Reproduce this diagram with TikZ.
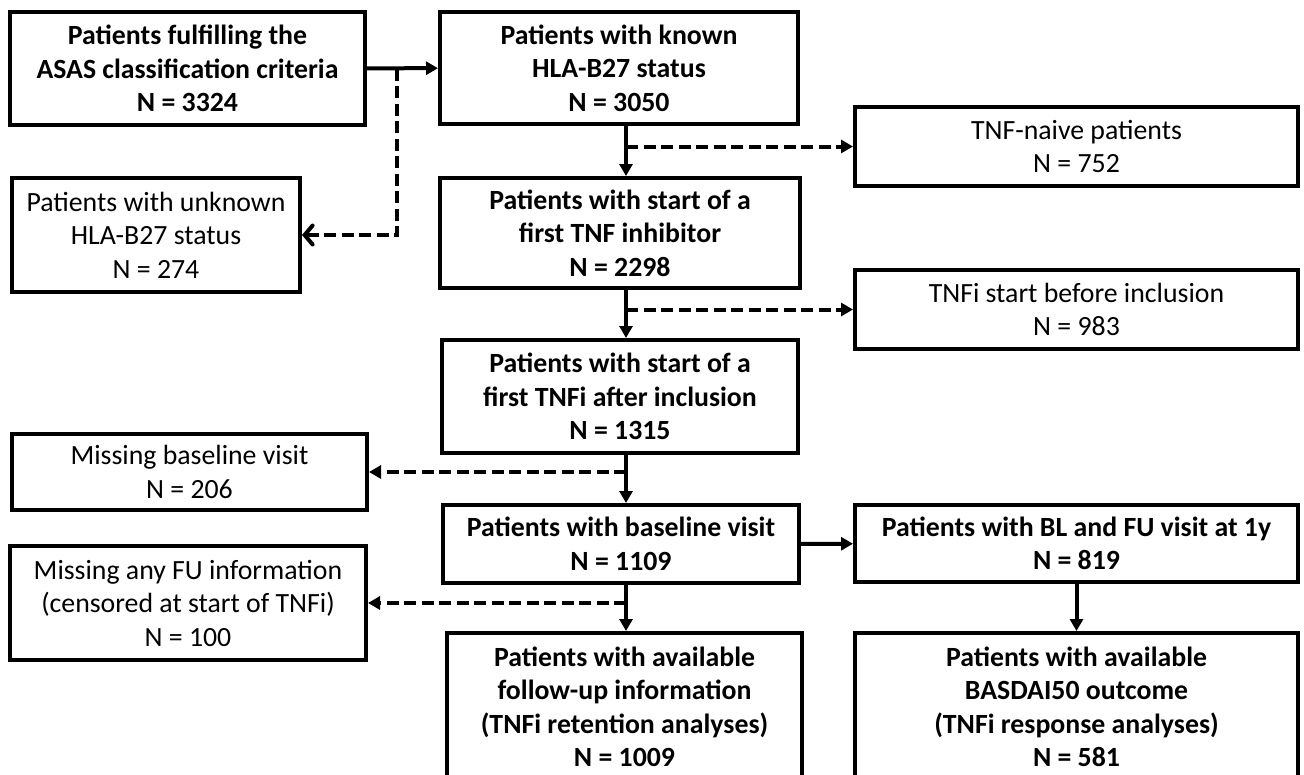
\documentclass[tikz,border=0pt]{standalone}
\usepackage{fontspec}
\setmainfont{Carlito}
\usetikzlibrary{arrows.meta,calc}
\tikzset{
  fbox/.style={draw, line width=4pt, inner sep=0pt, align=center,
    font=\fontsize{27.8}{33.5}\selectfont},
  bbox/.style={fbox, font=\fontsize{27.8}{33.5}\selectfont\bfseries},
  arr/.style={line width=4pt, -{Triangle[length=12pt,width=13pt]}},
  darr/.style={arr, dash pattern=on 12pt off 5.5pt},
  barb/.style={line width=4pt, dash pattern=on 12pt off 5.5pt,
    -{Straight Barb[length=8pt,width=19pt,line cap=round]}}
}
\begin{document}
\begin{tikzpicture}[x=1pt,y=-1pt]
\useasboundingbox (0,0) rectangle (1304,774);
\clip (0,0) rectangle (1304,774);
\node[bbox, minimum width=355pt, minimum height=113pt] (A) at (187.5,68.5)
  {Patients fulfilling the\\ASAS classification criteria\\N = 3324};
\node[bbox, minimum width=358pt, minimum height=112pt] (B) at (619,68)
  {Patients with known\\HLA-B27 status\\N = 3050};
\node[fbox, minimum width=288pt, minimum height=114pt] (U) at (156,235)
  {Patients with unknown\\HLA-B27 status\\N = 274};
\node[bbox, minimum width=360pt, minimum height=110pt] (C) at (620,233)
  {Patients with start of a\\first TNF inhibitor\\N = 2298};
\node[fbox, minimum width=443pt, minimum height=79pt] (NV) at (1076.5,146.5)
  {TNF-naive patients\\N = 752};
\node[fbox, minimum width=443pt, minimum height=79pt] (BI) at (1076.5,309.5)
  {TNFi start before inclusion\\N = 983};
\node[bbox, minimum width=356pt, minimum height=113pt] (D) at (620,396.5)
  {Patients with start of a\\first TNFi after inclusion\\N = 1315};
\node[fbox, minimum width=355pt, minimum height=76pt] (MB) at (189.5,472)
  {Missing baseline visit\\N = 206};
\node[bbox, minimum width=356pt, minimum height=78pt] (E) at (621,544)
  {Patients with baseline visit\\N = 1109};
\node[bbox, minimum width=443pt, minimum height=77pt] (BL) at (1076.5,543.5)
  {Patients with BL and FU visit at 1y\\N = 819};
\node[fbox, minimum width=356pt, minimum height=114pt] (MF) at (188,603)
  {Missing any FU information\\(censored at start of TNFi)\\N = 100};
\node[bbox, minimum width=355pt, minimum height=148pt] (F) at (624.5,707)
  {Patients with available\\follow-up information\\(TNFi retention analyses)\\N = 1009};
\node[bbox, minimum width=443pt, minimum height=148pt] (G) at (1076.5,707)
  {Patients with available\\BASDAI50 outcome\\(TNFi response analyses)\\N = 581};
\coordinate (mx) at (626,0);
\coordinate (dx) at (397,0);
% main flow
\draw[arr] (A) -- (B);
\draw[arr] (B.south -| mx) -- (C.north -| mx);
\draw[arr] (C.south -| mx) -- (D.north -| mx);
\draw[arr] (D.south -| mx) -- (E.north -| mx);
\draw[arr] (E.south -| mx) -- (F.north -| mx);
\draw[arr] (E) -- (BL);
\draw[arr] (BL) -- (G);
% exclusions
\draw[barb] (A.east -| dx) |- (U.east);
\draw[darr] (mx |- NV.west) -- (NV.west);
\draw[darr] (mx |- BI.west) -- (BI.west);
\draw[darr] (MB.east -| mx) -- (MB.east);
\draw[darr] (MF.east -| mx) -- (MF.east);
\end{tikzpicture}
\end{document}
